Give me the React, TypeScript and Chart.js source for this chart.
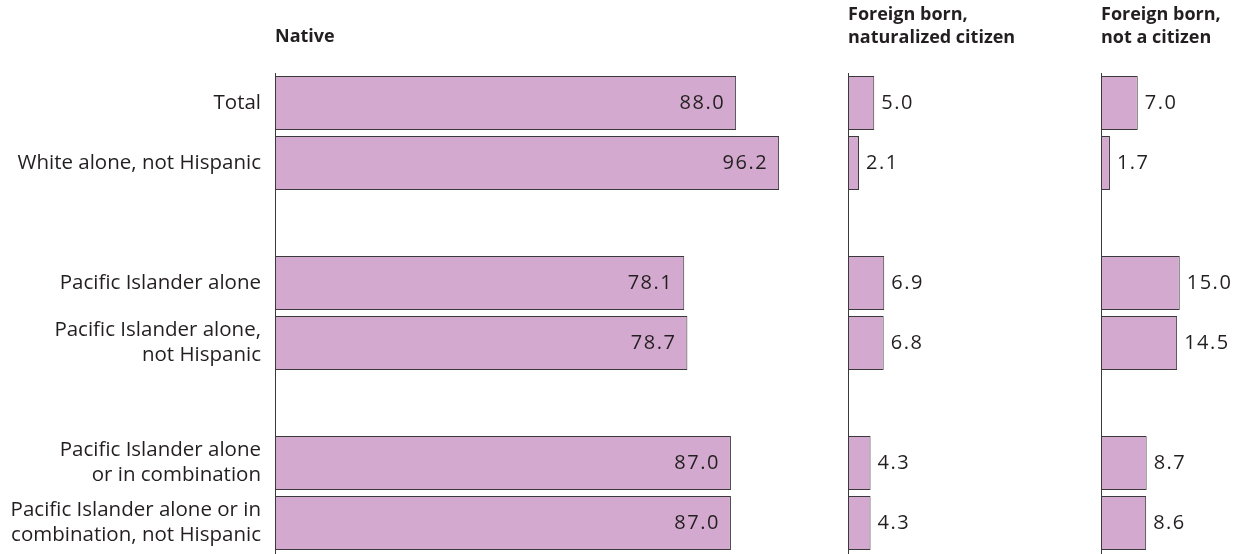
import React, { useEffect, useRef } from 'react';
import { Chart, registerables } from 'chart.js';

Chart.register(...registerables);

const categories: (string | string[])[] = [
  'Total',
  'White alone, not Hispanic',
  '',
  'Pacific Islander alone',
  ['Pacific Islander alone,', 'not Hispanic'],
  '',
  ['Pacific Islander alone', 'or in combination'],
  ['Pacific Islander alone or in', 'combination, not Hispanic'],
];
const nativeValues = [88.0, 96.2, null, 78.1, 78.7, null, 87.0, 87.0];
const naturalizedValues = [5.0, 2.1, null, 6.9, 6.8, null, 4.3, 4.3];
const nonCitizenValues = [7.0, 1.7, null, 15.0, 14.5, null, 8.7, 8.6];
const nativeTitle = ['Native'];
const naturalizedTitle = ['Foreign born,', 'naturalized citizen'];
const nonCitizenTitle = ['Foreign born,', 'not a citizen'];

const BAR_FILL = '#D3A9CF';
const BAR_EDGE = '#3a3a3a';
const TEXT = '#231f20';
const FONT = "'Open Sans', sans-serif";

type PanelCfg = {
  left: number;
  width: number;
  padLeft: number;
  padRight: number;
  max: number;
  values: (number | null)[];
  showLabels: boolean;
  inside: boolean;
};

function makeChart(canvas: HTMLCanvasElement, cfg: PanelCfg) {
  const valuePlugin = {
    id: 'valueLabels',
    afterDatasetsDraw(chart: any) {
      const ctx = chart.ctx;
      const meta = chart.getDatasetMeta(0);
      ctx.save();
      ctx.font = `20px ${FONT}`;
      ctx.fillStyle = TEXT;
      ctx.textBaseline = 'middle';
      try {
        (ctx as any).letterSpacing = '1.5px';
      } catch (e) {}
      meta.data.forEach((el: any, i: number) => {
        const v = cfg.values[i];
        if (v === null || v === undefined) return;
        const txt = v.toFixed(1);
        if (cfg.inside) {
          ctx.textAlign = 'right';
          ctx.fillText(txt, el.x - 11, el.y);
        } else {
          ctx.textAlign = 'left';
          ctx.fillText(txt, el.x + 7, el.y);
        }
      });
      ctx.restore();
    },
  };

  return new Chart(canvas, {
    type: 'bar',
    data: {
      labels: categories,
      datasets: [
        {
          data: cfg.values as any,
          backgroundColor: BAR_FILL,
          borderColor: BAR_EDGE,
          borderWidth: 1,
          borderSkipped: false,
          barPercentage: 0.9,
          categoryPercentage: 1.0,
        },
      ],
    },
    options: {
      indexAxis: 'y',
      responsive: false,
      animation: false,
      layout: { padding: { left: cfg.padLeft, right: cfg.padRight, top: 73, bottom: 1 } },
      plugins: {
        legend: { display: false },
        tooltip: { enabled: false },
        title: { display: false },
      },
      scales: {
        x: { display: false, min: 0, max: cfg.max },
        y: {
          display: true,
          grid: { display: false, drawTicks: false },
          border: { display: true, color: '#3a3a3a', width: 1 },
          ticks: {
            display: cfg.showLabels,
            padding: 14,
            color: TEXT,
            font: { family: FONT, size: 20.5, lineHeight: 1.22 },
            autoSkip: false,
          },
          afterFit: (s: any) => {
            s.width = cfg.showLabels ? 275 : 0;
            s.paddingTop = 0;
            s.paddingBottom = 0;
          },
        },
      },
    },
    plugins: [valuePlugin],
  });
}

const panels: PanelCfg[] = [
  { left: 0, width: 800, padLeft: 0, padRight: 1, max: 100, values: nativeValues, showLabels: true, inside: true },
  { left: 820, width: 200, padLeft: 28, padRight: 67, max: 20, values: naturalizedValues, showLabels: false, inside: false },
  { left: 1073, width: 166, padLeft: 28, padRight: 33, max: 20, values: nonCitizenValues, showLabels: false, inside: false },
];

const titles = [
  { lines: nativeTitle, x: 275, top: 24 },
  { lines: naturalizedTitle, x: 848, top: 2 },
  { lines: nonCitizenTitle, x: 1101, top: 2 },
];

export default function App() {
  const r0 = useRef<HTMLCanvasElement>(null);
  const r1 = useRef<HTMLCanvasElement>(null);
  const r2 = useRef<HTMLCanvasElement>(null);
  const refs = [r0, r1, r2];

  useEffect(() => {
    const charts = refs.map((r, i) => makeChart(r.current as HTMLCanvasElement, panels[i]));
    return () => charts.forEach((c) => c.destroy());
  }, []);

  return (
    <div style={{ position: 'fixed', left: 0, top: 0, width: 1239, height: 554, background: '#fff', overflow: 'hidden' }}>
      {panels.map((p, i) => (
        <canvas
          key={i}
          ref={refs[i]}
          width={p.width}
          height={554}
          style={{ position: 'absolute', left: p.left, top: 0, width: p.width, height: 554 }}
        />
      ))}
      {titles.map((t, i) => (
        <div
          key={'t' + i}
          style={{
            position: 'absolute',
            left: t.x,
            top: t.top,
            fontFamily: FONT,
            fontWeight: 700,
            fontSize: 18,
            lineHeight: '23px',
            color: TEXT,
            whiteSpace: 'nowrap',
          }}
        >
          {t.lines.map((l, j) => (
            <div key={j}>{l}</div>
          ))}
        </div>
      ))}
    </div>
  );
}
